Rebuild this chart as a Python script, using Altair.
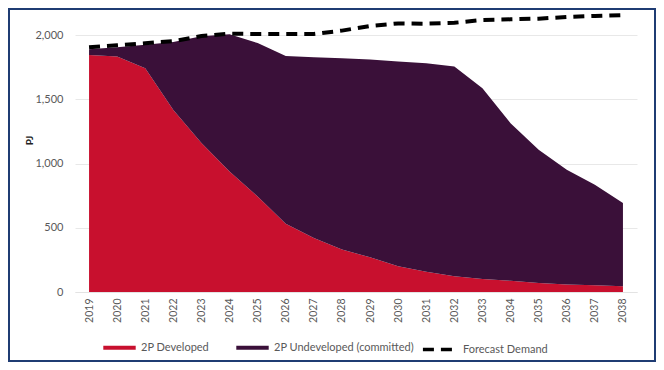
import altair as alt
import pandas as pd

years = [str(y) for y in range(2019, 2039)]
developed = [1845, 1832, 1741, 1417, 1159, 938, 744, 532, 421, 330, 270, 200, 157, 123, 102, 87, 71, 58, 53, 45]
undeveloped = [45, 73, 184, 528, 831, 1067, 1193, 1305, 1406, 1489, 1540, 1593, 1623, 1631, 1484, 1227, 1036, 893, 782, 648]
demand = [1904, 1920, 1936, 1952, 1992, 2010, 2008, 2008, 2008, 2034, 2070, 2090, 2088, 2095, 2117, 2122, 2127, 2140, 2148, 2155]

series_names = ["2P Developed", "2P Undeveloped (committed)"]
series_colors = ["#C8102E", "#3A1039"]

rows = []
for i, y in enumerate(years):
    rows.append({"year": y, "series": series_names[0], "value": developed[i], "ord": 0})
    rows.append({"year": y, "series": series_names[1], "value": undeveloped[i], "ord": 1})
area_df = pd.DataFrame(rows)
demand_df = pd.DataFrame({"year": years, "value": demand, "series": ["Forecast Demand"] * len(years)})

FONT = "Lato"
GRAY = "#595959"

xenc = alt.X(
    "year:O",
    scale=alt.Scale(type="point", padding=0.5),
    axis=alt.Axis(
        title=None, labelAngle=-90, labelColor=GRAY, labelFontSize=10.5, labelFont=FONT,
        ticks=False, domainColor="#E3E3E3", labelPadding=6, grid=False,
    ),
)

areas = alt.Chart(area_df).mark_area(opacity=1).encode(
    x=xenc,
    y=alt.Y(
        "value:Q", stack="zero",
        scale=alt.Scale(domain=[0, 2000], nice=False),
        axis=alt.Axis(
            title="PJ", values=[0, 500, 1000, 1500, 2000], format=",.0f", labelColor=GRAY,
            labelFontSize=11, labelFont=FONT, ticks=False, domain=False, labelPadding=12,
            gridColor="#E8E8E8", titleFont=FONT, titleFontSize=10, titleFontWeight="bold",
            titleColor="#222222", titleX=-41, titleY=105, titleAngle=-90,
        ),
    ),
    color=alt.Color(
        "series:N",
        scale=alt.Scale(domain=series_names, range=series_colors),
        legend=alt.Legend(
            title=None, orient="none", legendX=28, legendY=296, direction="horizontal",
            symbolType="M-1,-0.13H1V0.13H-1Z", symbolSize=1050, symbolStrokeWidth=0,
            labelFont=FONT, labelFontSize=11, labelColor=GRAY, columnPadding=26, labelOffset=5,
        ),
    ),
    order=alt.Order("ord:Q"),
)

line = alt.Chart(demand_df).mark_line(color="black", strokeWidth=4, strokeDash=[11, 7], clip=False).encode(
    x=alt.X("year:O", scale=alt.Scale(type="point", padding=0.5)),
    y=alt.Y("value:Q"),
    strokeDash=alt.StrokeDash(
        "series:N",
        scale=alt.Scale(domain=["Forecast Demand"], range=[[11, 7]]),
        legend=alt.Legend(
            title=None, orient="none", legendX=346, legendY=296,
            symbolType="stroke", symbolSize=1100, symbolStrokeColor="black", symbolStrokeWidth=3.5,
            labelFont=FONT, labelFontSize=11, labelColor=GRAY, labelOffset=5,
        ),
    ),
)

border = alt.Chart(pd.DataFrame({"a": [0]})).mark_rect(
    fill=None, fillOpacity=0, stroke="#1F3C73", strokeWidth=2, clip=False
).encode(
    x=alt.value(-66), x2=alt.value(580), y=alt.value(-26), y2=alt.value(326)
)

chart = alt.layer(areas, line, border).resolve_scale(strokeDash="independent").properties(
    width=562, height=257,
    autosize=alt.AutoSizeParams(type="none"),
    padding={"left": 67, "top": 27, "right": 19, "bottom": 70},
    background="white",
).configure_view(stroke=None)

chart.save("out.html", embed_options={"renderer": "svg", "actions": False})
